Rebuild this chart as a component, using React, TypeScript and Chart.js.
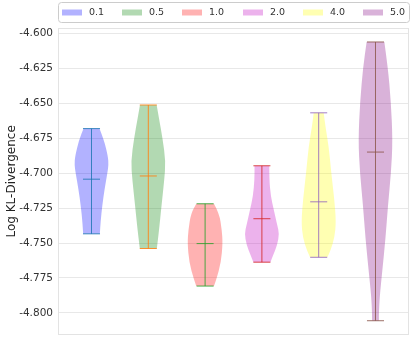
import React, { useEffect, useRef } from 'react';
import { Chart, registerables } from 'chart.js';

Chart.register(...registerables);

// ---- data ----
const categories = ['0.1', '0.5', '1.0', '2.0', '4.0', '5.0'];
const positions = [1, 2, 3, 4, 5, 6];
const mins = [-4.7434, -4.7539, -4.7808, -4.7637, -4.7602, -4.8056];
const maxs = [-4.6681, -4.6512, -4.7219, -4.6947, -4.6568, -4.6061];
const medians = [-4.7043, -4.702, -4.7504, -4.7326, -4.7205, -4.6849];

// density profiles: value along y, half-width in category units
const profile01Y = [-4.6681, -4.6763, -4.688, -4.6938, -4.6997, -4.7114, -4.723, -4.7347, -4.7434];
const profile01W = [0.14, 0.22, 0.29, 0.3, 0.28, 0.23, 0.19, 0.16, 0.147];
const profile05Y = [-4.6512, -4.6611, -4.6751, -4.6915, -4.7055, -4.7219, -4.7406, -4.7539];
const profile05W = [0.147, 0.19, 0.25, 0.306, 0.28, 0.236, 0.19, 0.15];
const profile10Y = [-4.7219, -4.7289, -4.7406, -4.75, -4.764, -4.7757, -4.7808];
const profile10W = [0.156, 0.25, 0.294, 0.31, 0.28, 0.2, 0.156];
const profile20Y = [-4.6947, -4.7046, -4.7163, -4.7256, -4.7373, -4.7432, -4.7514, -4.7584, -4.7637];
const profile20W = [0.13, 0.13, 0.156, 0.206, 0.27, 0.306, 0.27, 0.2, 0.15];
const profile40Y = [-4.6568, -4.6667, -4.6807, -4.6994, -4.7181, -4.7345, -4.7462, -4.7556, -4.7602];
const profile40W = [0.088, 0.118, 0.177, 0.22, 0.274, 0.306, 0.28, 0.206, 0.153];
const profile50Y = [-4.6061, -4.6248, -4.6482, -4.6763, -4.6997, -4.723, -4.7465, -4.7698, -4.7886, -4.8002, -4.8056];
const profile50W = [0.156, 0.22, 0.27, 0.303, 0.274, 0.22, 0.177, 0.12, 0.074, 0.06, 0.06];

const profileYs = [profile01Y, profile05Y, profile10Y, profile20Y, profile40Y, profile50Y];
const profileWs = [profile01W, profile05W, profile10W, profile20W, profile40W, profile50W];

const yTicks = [-4.8, -4.775, -4.75, -4.725, -4.7, -4.675, -4.65, -4.625, -4.6];

const fillColors = [
  'rgba(0,0,255,0.3)',
  'rgba(0,128,0,0.3)',
  'rgba(255,0,0,0.3)',
  'rgba(191,0,191,0.3)',
  'rgba(255,255,0,0.3)',
  'rgba(128,0,128,0.3)',
];
const lineColors = [
  'rgba(31,119,180,0.85)',
  'rgba(255,127,14,0.85)',
  'rgba(44,160,44,0.85)',
  'rgba(214,39,40,0.85)',
  'rgba(148,103,189,0.85)',
  'rgba(140,86,75,0.85)',
];

const CAP_HALF = 0.15;
const FONT = '"DejaVu Sans", sans-serif';

function smoothSide(ctx: CanvasRenderingContext2D, pts: number[][], start: boolean) {
  if (start) ctx.moveTo(pts[0][0], pts[0][1]);
  else ctx.lineTo(pts[0][0], pts[0][1]);
  for (let k = 1; k < pts.length - 1; k++) {
    const mx = (pts[k][0] + pts[k + 1][0]) / 2;
    const my = (pts[k][1] + pts[k + 1][1]) / 2;
    ctx.quadraticCurveTo(pts[k][0], pts[k][1], mx, my);
  }
  const last = pts[pts.length - 1];
  ctx.lineTo(last[0], last[1]);
}

const violinPlugin = {
  id: 'violins',
  beforeDatasetsDraw(chart: any) {
    const ctx: CanvasRenderingContext2D = chart.ctx;
    const xs = chart.scales.x;
    const ys = chart.scales.y;
    const area = chart.chartArea;
    ctx.save();
    // frame
    ctx.strokeStyle = '#e3e3e3';
    ctx.lineWidth = 1;
    ctx.strokeRect(Math.round(area.left) + 0.5, Math.round(area.top) + 0.5,
      Math.round(area.right - area.left) - 1, Math.round(area.bottom - area.top) - 1);

    for (let i = 0; i < categories.length; i++) {
      const p = positions[i];
      const vals = profileYs[i];
      const ws = profileWs[i];
      const right = vals.map((v, k) => [xs.getPixelForValue(p + ws[k]), ys.getPixelForValue(v)]);
      const left = vals.map((v, k) => [xs.getPixelForValue(p - ws[k]), ys.getPixelForValue(v)]).reverse();
      ctx.beginPath();
      smoothSide(ctx, right, true);
      smoothSide(ctx, left, false);
      ctx.closePath();
      ctx.fillStyle = fillColors[i];
      ctx.fill();

      const cx = xs.getPixelForValue(p);
      const cl = xs.getPixelForValue(p - CAP_HALF);
      const cr = xs.getPixelForValue(p + CAP_HALF);
      const yMin = ys.getPixelForValue(mins[i]);
      const yMax = ys.getPixelForValue(maxs[i]);
      const yMed = ys.getPixelForValue(medians[i]);
      ctx.strokeStyle = lineColors[i];
      ctx.lineWidth = 1;
      ctx.beginPath();
      ctx.moveTo(cx, yMax);
      ctx.lineTo(cx, yMin);
      ctx.moveTo(cl, yMin);
      ctx.lineTo(cr, yMin);
      ctx.moveTo(cl, yMax);
      ctx.lineTo(cr, yMax);
      ctx.moveTo(cl, yMed);
      ctx.lineTo(cr, yMed);
      ctx.stroke();
    }
    ctx.restore();
  },
  afterDraw(chart: any) {
    const ctx: CanvasRenderingContext2D = chart.ctx;
    const area = chart.chartArea;
    const lx = Math.round(area.left) + 0.5;
    const rx = Math.round(area.right) + 0.5;
    const ty = 2.5;
    const by = 22.5;
    ctx.save();
    ctx.beginPath();
    const r = 3;
    ctx.moveTo(lx + r, ty);
    ctx.lineTo(rx - r, ty);
    ctx.arcTo(rx, ty, rx, ty + r, r);
    ctx.lineTo(rx, by - r);
    ctx.arcTo(rx, by, rx - r, by, r);
    ctx.lineTo(lx + r, by);
    ctx.arcTo(lx, by, lx, by - r, r);
    ctx.lineTo(lx, ty + r);
    ctx.arcTo(lx, ty, lx + r, ty, r);
    ctx.closePath();
    ctx.fillStyle = 'rgba(255,255,255,0.8)';
    ctx.fill();
    ctx.strokeStyle = '#cccccc';
    ctx.lineWidth = 1;
    ctx.stroke();

    const spacing = (area.right - area.left - 50) / 5;
    ctx.font = `9.5px ${FONT}`;
    ctx.textBaseline = 'middle';
    ctx.textAlign = 'left';
    for (let i = 0; i < categories.length; i++) {
      const x0 = Math.round(area.left + 4 + i * spacing);
      ctx.fillStyle = fillColors[i];
      ctx.fillRect(x0, 9.5, 20, 6);
      ctx.fillStyle = '#333333';
      ctx.fillText(categories[i], x0 + 27, 12.5);
    }
    ctx.restore();
  },
};

export default function App() {
  const ref = useRef<HTMLCanvasElement>(null);
  useEffect(() => {
    if (!ref.current) return;
    const chart = new Chart(ref.current, {
      type: 'scatter',
      data: {
        datasets: [
          {
            label: 'medians',
            data: medians.map((m, i) => ({ x: positions[i], y: m })),
            pointRadius: 0,
            showLine: false,
          },
        ],
      },
      options: {
        responsive: false,
        animation: false,
        events: [],
        layout: { padding: { top: 28, right: 6, bottom: 6, left: 0 } },
        plugins: { legend: { display: false }, tooltip: { enabled: false } },
        scales: {
          x: { type: 'linear', display: false, min: 0.41, max: 6.59 },
          y: {
            type: 'linear',
            min: -4.8156,
            max: -4.5961,
            afterFit: (s: any) => { s.width = 58; },
            afterBuildTicks: (s: any) => { s.ticks = yTicks.map((v) => ({ value: v })); },
            grid: { color: '#e8e8e8', lineWidth: 1, drawTicks: false },
            border: { display: false },
            ticks: {
              padding: 5,
              color: '#333333',
              font: { family: FONT, size: 10.5 },
              callback: (v: any) => Number(v).toFixed(3),
            },
            title: {
              display: true,
              text: 'Log KL-Divergence',
              color: '#222222',
              font: { family: FONT, size: 12 },
              padding: { top: 5, bottom: 0 },
            },
          },
        },
      },
      plugins: [violinPlugin],
    } as any);
    return () => chart.destroy();
  }, []);
  return (
    <div style={{ position: 'fixed', left: 0, top: 0, width: 415, height: 346, background: '#fff' }}>
      <canvas ref={ref} width={415} height={346} style={{ display: 'block' }} />
    </div>
  );
}
